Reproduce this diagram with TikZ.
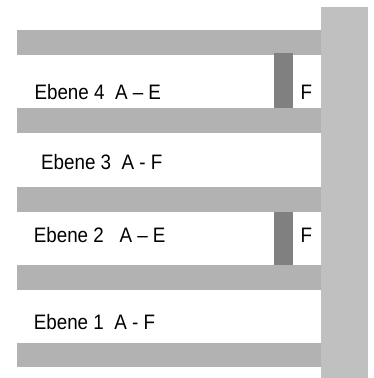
\documentclass[tikz,border=0pt]{standalone}
\usepackage{fontspec}
\setmainfont{Liberation Sans}[FakeStretch=0.9]
\definecolor{slabgray}{HTML}{B2B2B2}
\definecolor{colgray}{HTML}{C0C0C0}
\definecolor{bargray}{HTML}{808080}
\begin{document}
\begin{tikzpicture}[x=1pt,y=-1pt,
  slab/.style={fill=slabgray,draw=none},
  column/.style={fill=colgray,draw=none},
  bar/.style={fill=bargray,draw=none},
  lbl/.style={anchor=base west,inner sep=0pt,font=\fontsize{20.9}{24}\selectfont}]
\useasboundingbox[fill=white] (0,0) rectangle (374,378);
% column
\fill[column] (321,7) rectangle (368,378);
% slabs
\fill[slab] (17,30) rectangle (321,55);
\fill[slab] (17,108) rectangle (321,133);
\fill[slab] (17,187) rectangle (321,212);
\fill[slab] (17,265) rectangle (321,290);
\fill[slab] (17,343) rectangle (321,367);
% dark bars
\fill[bar] (274,53) rectangle (293,108);
\fill[bar] (274,212) rectangle (293,265);
% labels
\node[lbl] (e4) at (34.3,99) {Ebene 4\ \ A – E};
\node[lbl] (f4) at (300.5,99) {F};
\node[lbl] (e3) at (40.9,169) {Ebene 3\ \ A - F};
\node[lbl] (e2) at (33.6,242) {Ebene 2\ \ \ A – E};
\node[lbl] (f2) at (300.5,242) {F};
\node[lbl] (e1) at (33.6,329) {Ebene 1\ \ A - F};
\end{tikzpicture}
\end{document}
